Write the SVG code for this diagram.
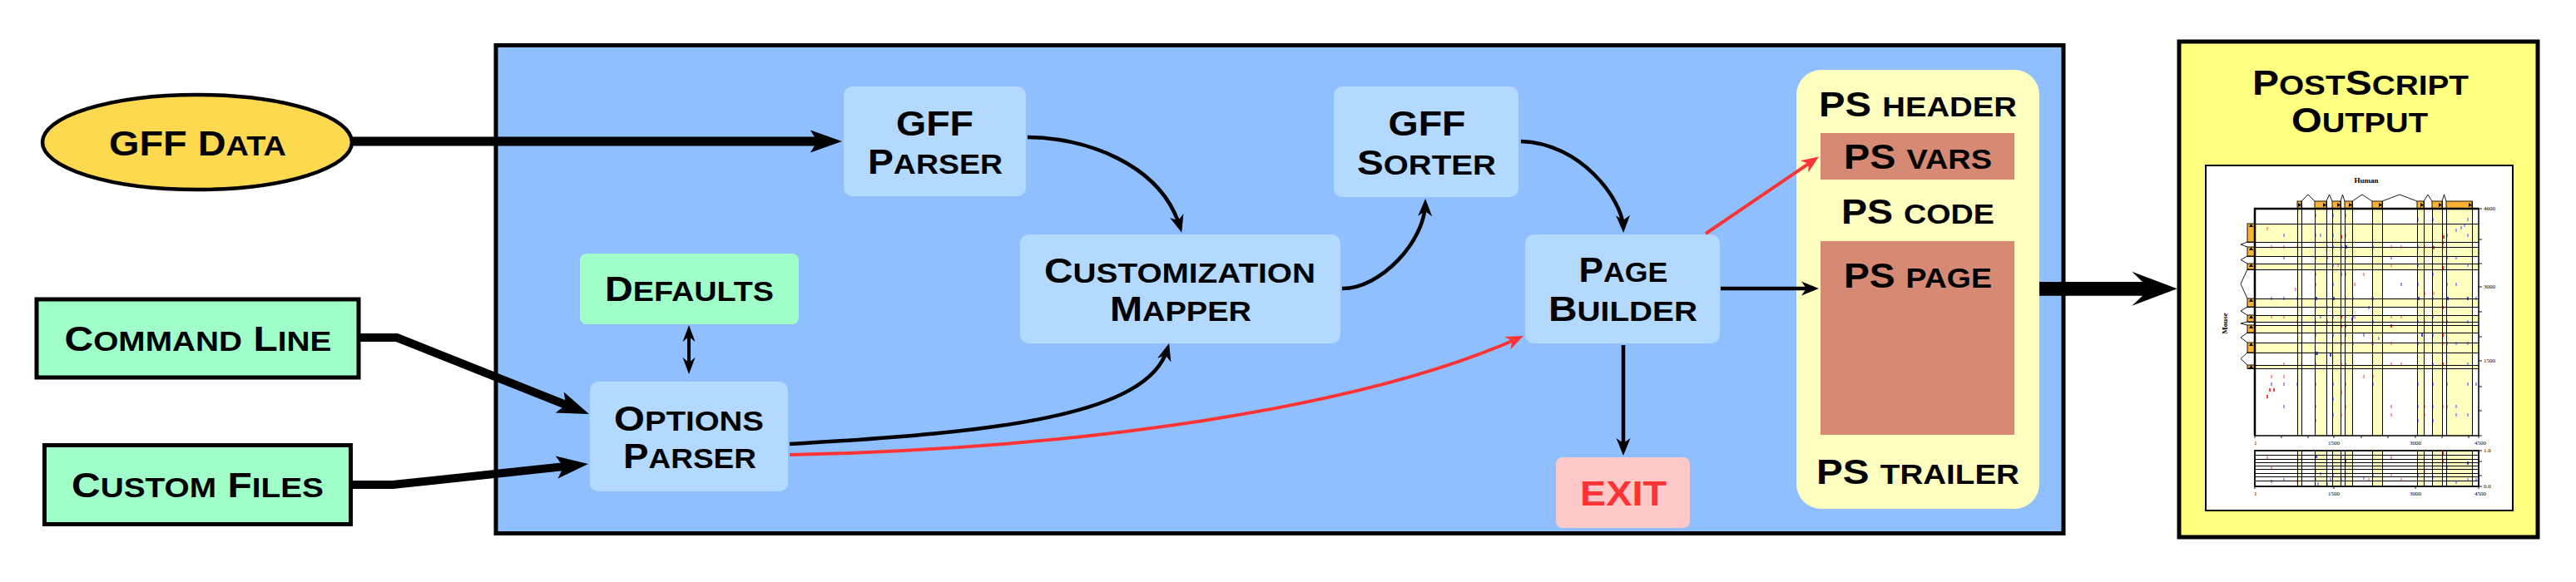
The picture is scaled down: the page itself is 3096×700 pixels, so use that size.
<svg xmlns="http://www.w3.org/2000/svg" width="3096" height="700" viewBox="0 0 3096 700">
<style>
.t{font-family:"Liberation Sans",Arial,sans-serif;font-weight:bold;font-size:42px;fill:#000;text-anchor:middle}
.s{font-size:34px}
.nb{fill:#b3d9ff}
.ng{fill:#a0ffc8}
.box{stroke:#000;stroke-width:5}
.c{fill:none;stroke:#000;stroke-width:4.5}
.cr{fill:none;stroke:#f33;stroke-width:4}
.ct{fill:none;stroke:#000;stroke-width:10}
.tk{font-family:"Liberation Serif",serif;font-size:7px;fill:#000}
.ttl{font-family:"Liberation Serif",serif;font-size:9px;font-weight:bold;fill:#000;text-anchor:middle}
.ln{fill:none;stroke:#000;stroke-width:1;shape-rendering:crispEdges}
</style>
<defs>
<marker id="ah" markerUnits="userSpaceOnUse" markerWidth="30" markerHeight="30" refX="-6" refY="0" orient="auto" overflow="visible"><path d="M0,0 L-21,-8.5 L-15,0 L-21,8.5 Z" fill="#000"/></marker>
<marker id="ahr" markerUnits="userSpaceOnUse" markerWidth="30" markerHeight="30" refX="-6" refY="0" orient="auto" overflow="visible"><path d="M0,0 L-21,-8.5 L-15,0 L-21,8.5 Z" fill="#f33"/></marker>
<marker id="ah2" markerUnits="userSpaceOnUse" markerWidth="30" markerHeight="30" refX="-6" refY="0" orient="auto-start-reverse" overflow="visible"><path d="M0,0 L-20,-7.5 L-14,0 L-20,7.5 Z" fill="#000"/></marker>
<marker id="AH" markerUnits="userSpaceOnUse" markerWidth="60" markerHeight="60" refX="-20" refY="0" orient="auto" overflow="visible"><path d="M0,0 L-38,-13.5 L-30,0 L-38,13.5 Z" fill="#000"/></marker>
</defs>
<rect x="0" y="0" width="3096" height="700" fill="#fff"/>

<g id="pipeline-frame">
<rect x="596" y="54.5" width="1884" height="587" fill="#8fbfff" class="box"/>
</g>

<g id="gff-data">
<ellipse cx="237" cy="171" rx="186" ry="57" fill="#fdd94f" stroke="#000" stroke-width="4.5"/>
<text class="t" x="237.5" y="187" textLength="213" lengthAdjust="spacingAndGlyphs">GFF D<tspan class="s">ATA</tspan></text>
</g>

<g id="command-line">
<rect x="44" y="360" width="387" height="94" class="ng box"/>
<text class="t" x="238" y="422" textLength="321" lengthAdjust="spacingAndGlyphs">C<tspan class="s">OMMAND</tspan> L<tspan class="s">INE</tspan></text>
</g>

<g id="custom-files">
<rect x="53.5" y="535.5" width="368" height="95" class="ng box"/>
<text class="t" x="237.5" y="598" textLength="303" lengthAdjust="spacingAndGlyphs">C<tspan class="s">USTOM</tspan> F<tspan class="s">ILES</tspan></text>
</g>

<g id="defaults">
<rect x="697" y="305" width="263" height="85" rx="8" class="ng"/>
<text class="t" x="828.5" y="362" textLength="203" lengthAdjust="spacingAndGlyphs">D<tspan class="s">EFAULTS</tspan></text>
</g>

<g id="options-parser">
<rect x="709" y="459" width="238" height="132" rx="10" class="nb"/>
<text class="t" x="828" y="518" textLength="180" lengthAdjust="spacingAndGlyphs">O<tspan class="s">PTIONS</tspan></text>
<text class="t" x="829" y="563" textLength="160" lengthAdjust="spacingAndGlyphs">P<tspan class="s">ARSER</tspan></text>
</g>

<g id="gff-parser">
<rect x="1014" y="104" width="219" height="132" rx="10" class="nb"/>
<text class="t" x="1123.5" y="163" textLength="93" lengthAdjust="spacingAndGlyphs">GFF</text>
<text class="t" x="1124" y="209" textLength="162" lengthAdjust="spacingAndGlyphs">P<tspan class="s">ARSER</tspan></text>
</g>

<g id="customization-mapper">
<rect x="1226" y="282" width="385" height="131" rx="10" class="nb"/>
<text class="t" x="1418" y="340" textLength="326" lengthAdjust="spacingAndGlyphs">C<tspan class="s">USTOMIZATION</tspan></text>
<text class="t" x="1419" y="386" textLength="170" lengthAdjust="spacingAndGlyphs">M<tspan class="s">APPER</tspan></text>
</g>

<g id="gff-sorter">
<rect x="1603" y="104" width="222" height="133" rx="10" class="nb"/>
<text class="t" x="1715" y="163" textLength="93" lengthAdjust="spacingAndGlyphs">GFF</text>
<text class="t" x="1714.5" y="210" textLength="167" lengthAdjust="spacingAndGlyphs">S<tspan class="s">ORTER</tspan></text>
</g>

<g id="page-builder">
<rect x="1833" y="282" width="234" height="131" rx="10" class="nb"/>
<text class="t" x="1951" y="339" textLength="107" lengthAdjust="spacingAndGlyphs">P<tspan class="s">AGE</tspan></text>
<text class="t" x="1950.5" y="386" textLength="179" lengthAdjust="spacingAndGlyphs">B<tspan class="s">UILDER</tspan></text>
</g>

<g id="exit">
<rect x="1870" y="550" width="161" height="85" rx="8" fill="#fcc8c8"/>
<text class="t" x="1951" y="608" textLength="104" lengthAdjust="spacingAndGlyphs" style="fill:#f33">EXIT</text>
</g>

<g id="postscript-document">
<rect x="2159" y="84" width="292" height="528" rx="30" fill="#ffffc0"/>
<rect x="2188" y="160" width="233" height="56" fill="#d78a73"/>
<rect x="2188" y="290" width="233" height="233" fill="#d78a73"/>
<text class="t" x="2305" y="140" textLength="238" lengthAdjust="spacingAndGlyphs">PS <tspan class="s">HEADER</tspan></text>
<text class="t" x="2305" y="203" textLength="178" lengthAdjust="spacingAndGlyphs">PS <tspan class="s">VARS</tspan></text>
<text class="t" x="2305" y="269" textLength="184" lengthAdjust="spacingAndGlyphs">PS <tspan class="s">CODE</tspan></text>
<text class="t" x="2305" y="346" textLength="178" lengthAdjust="spacingAndGlyphs">PS <tspan class="s">PAGE</tspan></text>
<text class="t" x="2305" y="582" textLength="244" lengthAdjust="spacingAndGlyphs">PS <tspan class="s">TRAILER</tspan></text>
</g>

<g id="postscript-output">
<rect x="2619" y="50" width="431" height="596" fill="#ffff80" class="box"/>
<text class="t" x="2837" y="114" textLength="260" lengthAdjust="spacingAndGlyphs">P<tspan class="s">OST</tspan>S<tspan class="s">CRIPT</tspan></text>
<text class="t" x="2836" y="159" textLength="164" lengthAdjust="spacingAndGlyphs">O<tspan class="s">UTPUT</tspan></text>
<rect x="2651" y="199" width="369" height="415" fill="#fff" stroke="#000" stroke-width="2"/>
<g id="thumbnail">
<g fill="#ffffc0">
<rect x="2761" y="251" width="5" height="273"/><rect x="2782" y="251" width="14" height="273"/><rect x="2803" y="251" width="10" height="273"/><rect x="2818" y="251" width="9" height="273"/><rect x="2851" y="251" width="12" height="273"/><rect x="2905" y="251" width="8" height="273"/><rect x="2923" y="251" width="12" height="273"/><rect x="2940" y="251" width="31" height="273"/>
<rect x="2761" y="542" width="5" height="43"/><rect x="2782" y="542" width="14" height="43"/><rect x="2803" y="542" width="10" height="43"/><rect x="2818" y="542" width="9" height="43"/><rect x="2851" y="542" width="12" height="43"/><rect x="2905" y="542" width="8" height="43"/><rect x="2923" y="542" width="12" height="43"/><rect x="2940" y="542" width="31" height="43"/>
<rect x="2710" y="269" width="269" height="22"/><rect x="2710" y="297" width="269" height="11"/><rect x="2710" y="317" width="269" height="7"/><rect x="2710" y="359" width="269" height="10"/><rect x="2710" y="379" width="269" height="8"/><rect x="2710" y="391" width="269" height="9"/><rect x="2710" y="412" width="269" height="12"/><rect x="2710" y="439" width="269" height="4"/>
</g>
<path fill="#9c9cff" d="M2782,257h2v4h-2zM2782,281h2v4h-2zM2782,308h2v4h-2zM2782,328h2v4h-2zM2782,340h2v4h-2zM2782,368h2v4h-2zM2782,385h2v4h-2zM2782,401h2v4h-2zM2782,436h2v4h-2zM2782,460h2v4h-2zM2782,487h2v4h-2zM2782,504h2v4h-2zM2803,257h2v4h-2zM2803,281h2v4h-2zM2803,295h2v4h-2zM2803,317h2v4h-2zM2803,340h2v4h-2zM2803,379h2v4h-2zM2803,401h2v4h-2zM2803,460h2v4h-2zM2803,478h2v4h-2zM2803,497h2v4h-2zM2818,257h2v4h-2zM2818,281h2v4h-2zM2818,308h2v4h-2zM2818,328h2v4h-2zM2818,357h2v4h-2zM2818,379h2v4h-2zM2818,401h2v4h-2zM2818,436h2v4h-2zM2818,460h2v4h-2zM2818,487h2v4h-2zM2851,295h2v4h-2zM2851,357h2v4h-2zM2851,385h2v4h-2zM2851,411h2v4h-2zM2851,460h2v4h-2zM2905,262h2v4h-2zM2905,295h2v4h-2zM2905,317h2v4h-2zM2905,340h2v4h-2zM2905,385h2v4h-2zM2905,411h2v4h-2zM2905,460h2v4h-2zM2905,487h2v4h-2zM2905,504h2v4h-2zM2923,262h2v4h-2zM2923,295h2v4h-2zM2923,328h2v4h-2zM2923,357h2v4h-2zM2923,379h2v4h-2zM2923,401h2v4h-2zM2923,436h2v4h-2zM2923,460h2v4h-2zM2923,487h2v4h-2zM2923,504h2v4h-2zM2940,281h2v4h-2zM2940,308h2v4h-2zM2940,340h2v4h-2zM2940,385h2v4h-2zM2940,411h2v4h-2zM2940,460h2v4h-2zM2940,487h2v4h-2zM2965,262h2v4h-2zM2965,281h2v4h-2zM2965,317h2v4h-2zM2965,385h2v4h-2zM2965,411h2v4h-2zM2965,436h2v4h-2zM2965,460h2v4h-2zM2965,497h2v4h-2zM2744,281h2v4h-2zM2744,308h2v4h-2zM2744,357h2v4h-2zM2744,460h2v4h-2zM2744,487h2v4h-2zM2729,357h2v4h-2zM2729,460h2v4h-2zM2951,275h2v4h-2zM2957,272h2v4h-2zM2961,269h2v4h-2zM2951,308h2v4h-2zM2951,340h2v4h-2zM2951,411h2v4h-2zM2951,487h2v4h-2zM2951,497h2v4h-2zM2975,357h2v4h-2zM2975,460h2v4h-2zM2813,328h2v4h-2zM2813,295h2v4h-2zM2796,308h2v4h-2zM2796,368h2v4h-2zM2788,379h2v4h-2zM2788,281h2v4h-2zM2840,401h2v4h-2zM2846,368h2v4h-2zM2858,405h2v4h-2zM2885,340h2v4h-2zM2873,308h2v4h-2zM2760,357h2v4h-2zM2760,460h2v4h-2zM2827,357h2v4h-2zM2827,379h2v4h-2zM2827,411h2v4h-2zM2782,565h2v4h-2zM2782,575h2v4h-2zM2803,560h2v4h-2zM2803,570h2v4h-2zM2800,575h2v4h-2zM2788,568h2v4h-2zM2818,567h2v4h-2zM2813,575h2v4h-2zM2840,573h2v4h-2zM2851,570h2v4h-2zM2905,570h2v4h-2zM2923,572h2v4h-2zM2940,560h2v4h-2zM2965,575h2v4h-2zM2744,575h2v4h-2zM2729,577h2v4h-2zM2951,578h2v4h-2zM2975,575h2v4h-2zM2785,580h2v4h-2zM2796,580h2v4h-2z"/>
<path fill="#4848ff" d="M2782,357h3v4h-3zM2783,423h3v4h-3zM2803,357h3v4h-3zM2819,295h2v4h-2zM2826,382h2v4h-2zM2905,357h3v4h-3zM2910,401h2v4h-2zM2940,357h3v4h-3zM2965,357h2v4h-2zM2800,425h2v4h-2zM2782,547h3v4h-3zM2818,552h2v4h-2zM2965,555h2v4h-2z"/>
<path fill="#ff9c9c" d="M2724,273h2v4h-2zM2729,295h2v4h-2zM2744,295h2v4h-2zM2760,295h2v4h-2zM2796,295h2v4h-2zM2809,317h2v4h-2zM2829,340h2v4h-2zM2840,328h2v4h-2zM2850,357h2v4h-2zM2873,295h2v4h-2zM2885,295h2v4h-2zM2913,295h2v4h-2zM2935,295h2v4h-2zM2873,317h2v4h-2zM2913,351h2v4h-2zM2924,351h2v4h-2zM2729,379h2v4h-2zM2744,379h2v4h-2zM2760,385h2v4h-2zM2796,385h2v4h-2zM2829,379h2v4h-2zM2873,379h2v4h-2zM2913,385h2v4h-2zM2935,385h2v4h-2zM2765,411h2v4h-2zM2813,411h2v4h-2zM2850,411h2v4h-2zM2873,411h2v4h-2zM2935,411h2v4h-2zM2744,436h2v4h-2zM2765,436h2v4h-2zM2813,436h2v4h-2zM2873,436h2v4h-2zM2885,436h2v4h-2zM2729,451h2v4h-2zM2744,451h2v4h-2zM2840,451h2v4h-2zM2851,451h2v4h-2zM2873,487h2v4h-2zM2873,497h2v4h-2zM2913,487h2v4h-2zM2913,497h2v4h-2zM2813,470h2v4h-2zM2813,497h2v4h-2zM2935,487h2v4h-2zM2758,346h2v4h-2zM2885,379h2v4h-2zM2724,548h2v4h-2zM2729,560h2v4h-2zM2813,547h2v4h-2zM2873,548h2v4h-2zM2846,575h2v4h-2zM2885,575h2v4h-2zM2913,565h2v4h-2zM2765,551h2v4h-2zM2760,577h2v4h-2zM2873,570h2v4h-2z"/>
<path fill="#ff3c3c" d="M2813,283h2v4h-2zM2935,283h3v4h-3zM2935,290h2v4h-2zM2924,296h2v4h-2zM2935,320h2v4h-2zM2813,379h2v4h-2zM2813,390h2v4h-2zM2873,390h2v4h-2zM2935,368h2v4h-2zM2935,401h2v4h-2zM2818,390h2v4h-2zM2935,436h2v4h-2zM2727,467h2v4h-2zM2732,467h2v4h-2zM2724,475h2v4h-2zM2935,543h2v4h-2zM2935,552h2v4h-2z"/>
<path class="ln" d="M2761,242V524M2766,242V524M2782,242V524M2796,242V524M2803,242V524M2813,242V524M2818,242V524M2827,242V524M2851,242V524M2863,242V524M2905,242V524M2913,242V524M2923,242V524M2935,242V524M2940,242V524M2971,242V524M2761,542V585M2766,542V585M2782,542V585M2796,542V585M2803,542V585M2813,542V585M2818,542V585M2827,542V585M2851,542V585M2863,542V585M2905,542V585M2913,542V585M2923,542V585M2935,542V585M2940,542V585M2971,542V585M2701,269H2979M2701,291H2979M2701,297H2979M2701,308H2979M2701,317H2979M2701,324H2979M2701,359H2979M2701,369H2979M2701,379H2979M2701,387H2979M2701,391H2979M2701,400H2979M2701,412H2979M2701,424H2979M2701,439H2979M2701,443H2979M2710,547H2979M2710,552H2979M2710,556H2979M2710,560H2979M2710,564H2979M2710,569H2979M2710,573H2979M2710,578H2979"/>
<path fill="none" stroke="#000" stroke-width="0.9" d="M2766,242L2774,234L2782,242M2796,242L2799.5,234L2803,242M2813,242L2815.5,234L2818,242M2827,242L2839,234L2851,242M2863,242L2884,234L2905,242M2913,242L2918,234L2923,242M2935,242L2937.5,234L2940,242M2701,291L2693,294L2701,297M2701,308L2693,312.5L2701,317M2701,324L2693,341.5L2701,359M2701,369L2693,374L2701,379M2701,387L2693,389L2701,391M2701,400L2693,406L2701,412M2701,424L2693,431.5L2701,439"/>
<g fill="#f9b233" stroke="#000" stroke-width="0.9">
<rect x="2761" y="242" width="5" height="9"/><rect x="2782" y="242" width="14" height="9"/><rect x="2803" y="242" width="10" height="9"/><rect x="2818" y="242" width="9" height="9"/><rect x="2851" y="242" width="12" height="9"/><rect x="2905" y="242" width="8" height="9"/><rect x="2923" y="242" width="12" height="9"/><rect x="2940" y="242" width="31" height="9"/>
<rect x="2701" y="269" width="9" height="22"/><rect x="2701" y="297" width="9" height="11"/><rect x="2701" y="317" width="9" height="7"/><rect x="2701" y="359" width="9" height="10"/><rect x="2701" y="379" width="9" height="8"/><rect x="2701" y="391" width="9" height="9"/><rect x="2701" y="412" width="9" height="12"/><rect x="2701" y="439" width="9" height="4"/>
</g>
<path fill="#000" d="M2762,244L2766,246.5L2762,249ZM2792,244L2796,246.5L2792,249ZM2809,244L2813,246.5L2809,249ZM2823,244L2827,246.5L2823,249ZM2859,244L2863,246.5L2859,249ZM2909,244L2913,246.5L2909,249ZM2931,244L2935,246.5L2931,249ZM2967,244L2971,246.5L2967,249ZM2703,273L2705.5,269L2708,273ZM2703,301L2705.5,297L2708,301ZM2703,321L2705.5,317L2708,321ZM2703,363L2705.5,359L2708,363ZM2703,383L2705.5,379L2708,383ZM2703,395L2705.5,391L2708,395ZM2703,416L2705.5,412L2708,416ZM2703,443L2705.5,439L2708,443Z"/>
<rect x="2710" y="251" width="269" height="273" fill="none" stroke="#000" stroke-width="1.5"/>
<path fill="none" stroke="#000" stroke-width="2.5" d="M2710,524V251H2979"/>
<rect x="2710" y="542" width="269" height="43" fill="none" stroke="#000" stroke-width="1.8"/>
<path fill="none" stroke="#000" stroke-width="0.9" d="M2979,251h4M2979,288h4M2979,317h4M2979,345h4M2979,375h4M2979,405h4M2979,434h4M2979,465h4M2979,494h4M2979,524h4M2979,542h4M2979,555h4M2979,572h4M2979,585h4M2710,524v3M2742,524v3M2774,524v3M2805,524v3M2838,524v3M2870,524v3M2903,524v3M2935,524v3M2967,524v3M2979,524v3M2710,585v3M2805,585v3M2903,585v3M2979,585v3"/>
<text class="ttl" x="2844" y="220">Human</text>
<text class="ttl" x="2677" y="389" transform="rotate(-90 2677 389)">Mouse</text>
<text class="tk" x="2985" y="253">4600</text>
<text class="tk" x="2985" y="347">3000</text>
<text class="tk" x="2985" y="436">1500</text>
<text class="tk" x="2985" y="544">1.0</text>
<text class="tk" x="2985" y="587">0.0</text>
<text class="tk" x="2709" y="535">1</text>
<text class="tk" x="2798" y="535">1500</text>
<text class="tk" x="2896" y="535">3000</text>
<text class="tk" x="2974" y="535">4500</text>
<text class="tk" x="2709" y="596">1</text>
<text class="tk" x="2798" y="596">1500</text>
<text class="tk" x="2896" y="596">3000</text>
<text class="tk" x="2974" y="596">4500</text>
</g>
</g>

<g id="connectors">
<path class="ct" style="stroke-width:11" d="M423,170 L992,170" marker-end="url(#AH)"/>
<path class="ct" d="M431,406 L477,406 L689.4,490.6" marker-end="url(#AH)"/>
<path class="ct" d="M421,583 L472,583 L687.1,560.1" marker-end="url(#AH)"/>
<path class="c" style="stroke-width:4" d="M828,397 L828,444" marker-start="url(#ah2)" marker-end="url(#ah2)"/>
<path class="c" d="M949,534 C1200,520 1380,500 1403.4,418.8" marker-end="url(#ah)"/>
<path class="cr" d="M949,547 C1300,540 1640,490 1825.5,406.5" marker-end="url(#ahr)"/>
<path class="c" d="M1235,165 C1300,165 1395,195 1418.5,273.9" marker-end="url(#ah)"/>
<path class="c" d="M1613,347 C1660,347 1712,290 1713,245" marker-end="url(#ah)"/>
<path class="c" d="M1828,170 C1900,172 1950,240 1951,274" marker-end="url(#ah)"/>
<path class="c" d="M1951,415 L1951,542" marker-end="url(#ah)"/>
<path class="c" d="M2068,347 L2180,347" marker-end="url(#ah)"/>
<path class="cr" d="M2050,281 L2181,191.8" marker-end="url(#ahr)"/>
<path fill="#000" d="M2451,339 L2575,339 L2562.3,326.7 L2616.7,347.3 L2562.3,367.7 L2575,355.7 L2451,355.7 Z"/>
</g>
</svg>
